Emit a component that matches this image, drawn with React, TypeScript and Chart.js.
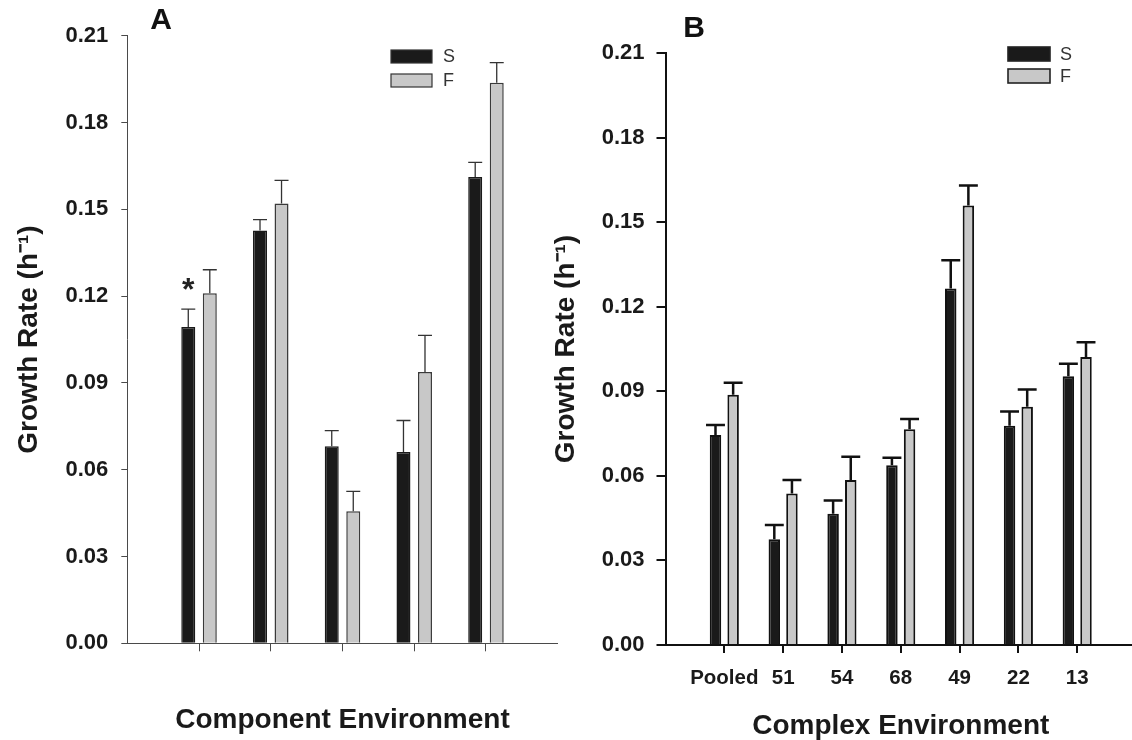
import React, { useEffect, useRef } from 'react';
import { Chart, registerables } from 'chart.js';

Chart.register(...registerables);

const FONT = "'Liberation Sans', Arial, Helvetica, sans-serif";

// ---------- data ----------
const seriesNames = ['S', 'F'];

// Panel A – Component Environment (no category labels printed)
const categoriesA = ['', '', '', '', ''];
const sA = [0.1093, 0.1427, 0.0681, 0.0661, 0.1612];
const sAErr = [0.0062, 0.0037, 0.0054, 0.0109, 0.005];
const fA = [0.121, 0.152, 0.0456, 0.0938, 0.1937];
const fAErr = [0.0081, 0.008, 0.0069, 0.0126, 0.007];

// Panel B – Complex Environment
const categoriesB = ['Pooled', '51', '54', '68', '49', '22', '13'];
const sB = [0.0745, 0.0375, 0.0466, 0.0638, 0.1265, 0.0778, 0.0953];
const sBErr = [0.0035, 0.0051, 0.0047, 0.0026, 0.01, 0.005, 0.0045];
const fB = [0.0888, 0.0537, 0.0585, 0.0765, 0.1559, 0.0845, 0.1022];
const fBErr = [0.0042, 0.0048, 0.0083, 0.0037, 0.0071, 0.0061, 0.0052];

const yTicks = [0, 0.03, 0.06, 0.09, 0.12, 0.15, 0.18, 0.21];
const yTickLabels = ['0.00', '0.03', '0.06', '0.09', '0.12', '0.15', '0.18', '0.21'];

// significance marks: category index, series index, value at glyph centre
const marksA = [{ index: 0, series: 0, value: 0.1238, text: '*' }];
const marksB: { index: number; series: number; value: number; text: string }[] = [];

const yTitle = 'Growth Rate (h\u207B\u00B9)';
const xTitleA = 'Component Environment';
const xTitleB = 'Complex Environment';

// ---------- plugins ----------
const errorBarPlugin = {
  id: 'errorBars',
  afterDatasetsDraw(chart: any, _args: any, opts: any) {
    const { ctx } = chart;
    const yScale = chart.scales.y;
    chart.data.datasets.forEach((ds: any, di: number) => {
      const errs = ds.errors;
      if (!errs) return;
      const meta = chart.getDatasetMeta(di);
      ctx.save();
      ctx.strokeStyle = opts.color;
      ctx.lineWidth = opts.lineWidth;
      meta.data.forEach((el: any, i: number) => {
        const v = ds.data[i];
        const e = errs[i];
        if (v == null || e == null) return;
        const top = yScale.getPixelForValue(v + e);
        const half = (opts.capScale * el.width) / 2;
        ctx.beginPath();
        ctx.moveTo(el.x, el.y);
        ctx.lineTo(el.x, top);
        ctx.moveTo(el.x - half, top);
        ctx.lineTo(el.x + half, top);
        ctx.stroke();
      });
      ctx.restore();
    });
  },
};

const decorPlugin = {
  id: 'decor',
  afterDraw(chart: any, _args: any, opts: any) {
    const { ctx } = chart;
    ctx.save();
    // panel letter
    ctx.fillStyle = '#111';
    ctx.font = `bold ${opts.letterSize}px ${FONT}`;
    ctx.textAlign = 'center';
    ctx.textBaseline = 'middle';
    ctx.fillText(opts.letter, opts.letterX, opts.letterY);
    // legend
    chart.data.datasets.forEach((ds: any, i: number) => {
      const by = opts.legendY + i * opts.legendGap;
      ctx.fillStyle = ds.backgroundColor;
      ctx.fillRect(opts.legendX, by, opts.boxW, opts.boxH);
      ctx.strokeStyle = opts.legendBorderColor;
      ctx.lineWidth = opts.legendBorder;
      ctx.strokeRect(opts.legendX, by, opts.boxW, opts.boxH);
      ctx.fillStyle = '#333';
      ctx.font = `${opts.legendFont}px ${FONT}`;
      ctx.textAlign = 'left';
      ctx.textBaseline = 'middle';
      ctx.fillText(ds.label, opts.legendX + opts.boxW + opts.textGap, by + opts.boxH / 2 + 1);
    });
    // significance marks
    const yScale = chart.scales.y;
    (opts.marks || []).forEach((m: any) => {
      const el = chart.getDatasetMeta(m.series).data[m.index + 1];
      if (!el) return;
      ctx.fillStyle = '#222';
      ctx.font = `bold ${opts.markSize}px ${FONT}`;
      ctx.textAlign = 'center';
      ctx.textBaseline = 'middle';
      ctx.fillText(m.text, el.x, yScale.getPixelForValue(m.value) + opts.markSize * 0.18);
    });
    ctx.restore();
  },
};

// ---------- chart builder ----------
type PanelCfg = {
  categories: string[];
  s: number[];
  sErr: number[];
  f: number[];
  fErr: number[];
  xTitle: string;
  axisColor: string;
  axisWidth: number;
  yWidth: number;
  xHeight: number;
  padding: { top: number; right: number; bottom: number; left: number };
  yTickLen: number;
  yTickPad: number;
  yTitlePad: number;
  xTitlePadBottom: number;
  barBorder: number;
  sBorderColor: string;
  fBorderColor: string;
  err: { color: string; lineWidth: number; capScale: number };
  decor: any;
};

function buildChart(canvas: HTMLCanvasElement, p: PanelCfg) {
  const labels = ['', ...p.categories, ''];
  const pad = (arr: number[]) => [null, ...arr, null];
  const last = labels.length - 1;
  return new Chart(canvas, {
    type: 'bar',
    data: {
      labels,
      datasets: [
        {
          label: seriesNames[0],
          data: pad(p.s),
          errors: pad(p.sErr),
          backgroundColor: '#1a1a1a',
          borderColor: p.sBorderColor,
          borderWidth: p.barBorder,
          categoryPercentage: 0.6,
          barPercentage: 0.65,
        } as any,
        {
          label: seriesNames[1],
          data: pad(p.f),
          errors: pad(p.fErr),
          backgroundColor: '#c8c8c8',
          borderColor: p.fBorderColor,
          borderWidth: p.barBorder,
          categoryPercentage: 0.6,
          barPercentage: 0.65,
        } as any,
      ],
    },
    options: {
      responsive: false,
      animation: false,
      devicePixelRatio: 1,
      layout: { padding: p.padding },
      plugins: {
        legend: { display: false },
        tooltip: { enabled: false },
        title: { display: false },
        errorBars: p.err,
        decor: p.decor,
      } as any,
      scales: {
        x: {
          type: 'category',
          offset: false,
          grid: {
            offset: false,
            display: true,
            drawOnChartArea: false,
            drawTicks: true,
            tickLength: 8,
            lineWidth: p.axisWidth,
            color: p.axisColor,
            tickColor: (ctx: any) => (ctx.index === 0 || ctx.index === last ? 'rgba(0,0,0,0)' : p.axisColor),
          },
          border: { display: true, color: p.axisColor, width: p.axisWidth },
          ticks: {
            autoSkip: false,
            maxRotation: 0,
            minRotation: 0,
            padding: 13,
            color: '#1a1a1a',
            font: { family: FONT, size: 20.5, weight: 'bold', lineHeight: 1.2 },
          },
          title: {
            display: true,
            text: p.xTitle,
            color: '#1a1a1a',
            font: { family: FONT, size: 28, weight: 'bold', lineHeight: 1 },
            padding: { top: 0, bottom: p.xTitlePadBottom },
          },
          afterFit: (scale: any) => {
            scale.height = p.xHeight;
            scale.paddingLeft = 0;
            scale.paddingRight = 0;
          },
        },
        y: {
          type: 'linear',
          min: 0,
          max: 0.21,
          afterBuildTicks: (scale: any) => {
            scale.ticks = yTicks.map((v) => ({ value: v }));
          },
          grid: {
            display: true,
            drawOnChartArea: false,
            drawTicks: true,
            tickLength: p.yTickLen,
            lineWidth: p.axisWidth,
            color: p.axisColor,
          },
          border: { display: true, color: p.axisColor, width: p.axisWidth },
          ticks: {
            padding: p.yTickPad,
            color: '#1a1a1a',
            font: { family: FONT, size: 22, weight: 'bold' },
            callback: (_v: any, i: number) => yTickLabels[i],
          },
          title: {
            display: true,
            text: yTitle,
            color: '#1a1a1a',
            font: { family: FONT, size: 28, weight: 'bold', lineHeight: 1 },
            padding: { top: p.yTitlePad, bottom: 0 },
          },
          afterFit: (scale: any) => {
            scale.width = p.yWidth;
          },
        },
      },
    } as any,
    plugins: [errorBarPlugin, decorPlugin],
  });
}

const B_LEFT = 548;

export default function App() {
  const refA = useRef<HTMLCanvasElement>(null);
  const refB = useRef<HTMLCanvasElement>(null);

  useEffect(() => {
    const chartA = buildChart(refA.current!, {
      categories: categoriesA,
      s: sA,
      sErr: sAErr,
      f: fA,
      fErr: fAErr,
      xTitle: xTitleA,
      axisColor: '#4a4a4a',
      axisWidth: 1,
      yWidth: 127.3,
      xHeight: 96.7,
      padding: { top: 35.7, right: 2.3, bottom: 0, left: 0 },
      yTickLen: 6,
      yTickPad: 13,
      yTitlePad: 15,
      xTitlePadBottom: 6,
      barBorder: 1.5,
      sBorderColor: '#1a1a1a',
      fBorderColor: '#3a3a3a',
      err: { color: '#333', lineWidth: 1.3, capScale: 1.0 },
      decor: {
        letter: 'A',
        letterX: 161,
        letterY: 21,
        letterSize: 30,
        legendX: 391,
        legendY: 50,
        legendGap: 24,
        boxW: 41,
        boxH: 13,
        legendBorder: 1.2,
        legendBorderColor: '#333',
        legendFont: 18,
        textGap: 11,
        markSize: 32,
        marks: marksA,
      },
    });
    const chartB = buildChart(refB.current!, {
      categories: categoriesB,
      s: sB,
      sErr: sBErr,
      f: fB,
      fErr: fBErr,
      xTitle: xTitleB,
      axisColor: '#111',
      axisWidth: 2,
      yWidth: 665.5 - B_LEFT,
      xHeight: 95,
      padding: { top: 53, right: 12, bottom: 0, left: 0 },
      yTickLen: 9,
      yTickPad: 12,
      yTitlePad: 4,
      xTitlePadBottom: 0,
      barBorder: 2,
      sBorderColor: '#111',
      fBorderColor: '#111',
      err: { color: '#111', lineWidth: 2.5, capScale: 1.65 },
      decor: {
        letter: 'B',
        letterX: 694 - B_LEFT,
        letterY: 29,
        letterSize: 30,
        legendX: 1008 - B_LEFT,
        legendY: 47,
        legendGap: 22,
        boxW: 42,
        boxH: 14,
        legendBorder: 1.6,
        legendBorderColor: '#222',
        legendFont: 18,
        textGap: 10,
        markSize: 32,
        marks: marksB,
      },
    });
    return () => {
      chartA.destroy();
      chartB.destroy();
    };
  }, []);

  return (
    <div
      style={{
        position: 'fixed',
        left: 0,
        top: 0,
        width: 1132,
        height: 740,
        overflow: 'hidden',
        background: '#fff',
      }}
    >
      <canvas
        ref={refA}
        width={560}
        height={740}
        style={{ position: 'absolute', left: 0, top: 0, width: 560, height: 740, display: 'block' }}
      />
      <canvas
        ref={refB}
        width={600}
        height={740}
        style={{ position: 'absolute', left: B_LEFT, top: 0, width: 600, height: 740, display: 'block' }}
      />
    </div>
  );
}
